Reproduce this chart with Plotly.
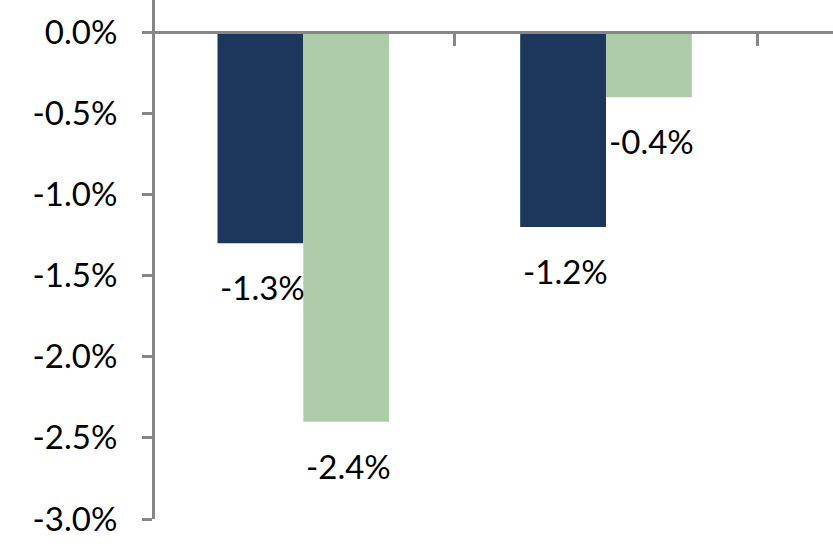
import plotly.graph_objects as go

categories = ["Category A", "Category B"]
series_names = ["Series 1", "Series 2"]
series1 = [-1.3, -1.2]
series2 = [-2.4, -0.4]
y_ticks = [0.0, -0.5, -1.0, -1.5, -2.0, -2.5, -3.0]
y_tick_labels = ["0.0%", "-0.5%", "-1.0%", "-1.5%", "-2.0%", "-2.5%", "-3.0%"]

colors = ["#1C365C", "#ADCBA8"]
FONT = "Lato"
FS = 33
bargap = 0.433
y_range = [-3.0, 0.2]

fig = go.Figure()
for name, vals, col in zip(series_names, [series1, series2], colors):
    fig.add_trace(go.Bar(x=categories, y=vals, name=name, marker=dict(color=col, line=dict(width=0)),
                         hoverinfo="skip"))

# data labels as annotations (drawn above bars)
bw = (1 - bargap) / 2
for si, vals in enumerate([series1, series2]):
    off = (si - 0.5) * bw
    for ci, v in enumerate(vals):
        fig.add_annotation(x=ci + off + 0.008, y=v, xref="x", yref="y", text=f"{v:.1f}%",
                           showarrow=False, yanchor="middle", yshift=-44,
                           font=dict(family=FONT, size=FS, color="#000000"))

fig.update_layout(
    width=833, height=547,
    margin=dict(l=155, r=0, t=0, b=28, autoexpand=False),
    paper_bgcolor="white", plot_bgcolor="white",
    barmode="group", bargap=bargap, bargroupgap=0,
    showlegend=False,
    font=dict(family=FONT, size=FS, color="#000000"),
)
fig.update_xaxes(
    type="category", range=[-0.49, 1.75], automargin=False,
    anchor="free", position=(0 - y_range[0]) / (y_range[1] - y_range[0]),
    showline=True, linecolor="#868686", linewidth=3,
    ticks="outside", tickson="boundaries", ticklen=12, tickwidth=3, tickcolor="#868686",
    showticklabels=False, showgrid=False, zeroline=False,
)
fig.update_yaxes(
    range=y_range, tickvals=y_ticks, ticktext=y_tick_labels, automargin=False,
    showline=True, linecolor="#868686", linewidth=3,
    ticks="outside", ticklen=10, tickwidth=3, tickcolor="#868686",
    ticklabelstandoff=18,
    showgrid=False, zeroline=False,
    tickfont=dict(family=FONT, size=FS, color="#000000"),
)

fig.write_html("out.html", config={"displayModeBar": False},
               post_script="document.body.style.margin='0';document.body.style.overflow='hidden';")
